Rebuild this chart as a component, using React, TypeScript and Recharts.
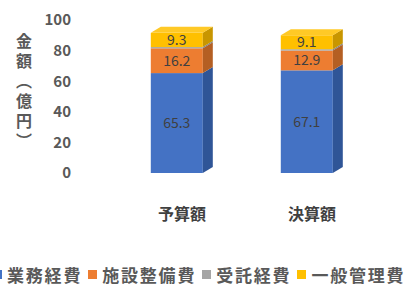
import React from 'react';
import { BarChart, Bar, XAxis, YAxis, LabelList } from 'recharts';

const categories = ['予算額', '決算額'];
const gyomu = [65.3, 67.1];
const shisetsu = [16.2, 12.9];
const jutaku = [0.8, 0.9];
const ippan = [9.3, 9.1];
const yTicks = [0, 20, 40, 60, 80, 100];

const seriesDefs = [
  { key: 'gyomu', name: '業務経費', color: '#4472C4', side: '#2F5597', label: true },
  { key: 'shisetsu', name: '施設整備費', color: '#ED7D31', side: '#B45F23', label: true },
  { key: 'jutaku', name: '受託経費', color: '#A5A5A5', side: '#7F7F7F', label: false },
  { key: 'ippan', name: '一般管理費', color: '#FFC000', side: '#C89600', label: true },
];

const data = categories.map((c, i) => ({
  name: c,
  gyomu: gyomu[i],
  shisetsu: shisetsu[i],
  jutaku: jutaku[i],
  ippan: ippan[i],
}));

const DEPTH_X = 10;
const DEPTH_Y = 6;

// front face + right side, top face only on last segment
const Box3D = (color: string, side: string, top: boolean) => (props: any) => {
  const { x, y, width, height } = props;
  if (!height || height <= 0) return null;
  const w = width - DEPTH_X;
  return (
    <g>
      <rect x={x} y={y} width={w} height={height} fill={color} />
      <path
        d={`M${x + w},${y} L${x + w + DEPTH_X},${y - DEPTH_Y} L${x + w + DEPTH_X},${y + height - DEPTH_Y} L${x + w},${y + height} Z`}
        fill={side}
      />
      {top && (
        <path
          d={`M${x},${y} L${x + DEPTH_X},${y - DEPTH_Y} L${x + w + DEPTH_X},${y - DEPTH_Y} L${x + w},${y} Z`}
          fill={color}
          opacity={0.85}
        />
      )}
    </g>
  );
};

const LegendBox = () => (
  <div
    style={{
      position: 'absolute',
      left: -7,
      top: 262,
      display: 'flex',
      alignItems: 'center',
      whiteSpace: 'nowrap',
      fontSize: 17,
      fontWeight: 'bold',
      color: '#595959',
      letterSpacing: 1.8,
    }}
  >
    {seriesDefs.map((s) => (
      <span key={s.key} style={{ display: 'inline-flex', alignItems: 'center', marginRight: 6 }}>
        <span style={{ width: 9, height: 9, background: s.color, marginRight: 5, display: 'inline-block' }} />
        {s.name}
      </span>
    ))}
  </div>
);

export default function App() {
  return (
    <div style={{ position: 'absolute', left: 0, top: 0, width: 417, height: 291, background: '#fff', overflow: 'hidden', fontFamily: '"Noto Sans CJK JP", sans-serif' }}>
      <div
        style={{
          position: 'absolute',
          left: 16,
          top: 33,
          writingMode: 'vertical-rl',
          fontSize: 16,
          fontWeight: 'bold',
          color: '#595959',
          lineHeight: 1,
          letterSpacing: 4,
        }}
      >
        金額（億円）
      </div>
      <BarChart
        width={417}
        height={291}
        data={data}
        margin={{ top: 20, right: 40, bottom: 78, left: 7 }}
        barCategoryGap="26%"
      >
        <XAxis
          dataKey="name"
          axisLine={false}
          tickLine={false}
          tickMargin={30}
          height={40}
          tick={{ fill: '#404040', fontSize: 16, fontWeight: 'bold' }}
        />
        <YAxis
          domain={[0, 100]}
          ticks={yTicks}
          width={110}
          axisLine={false}
          tickLine={false}
          tickMargin={40}
          tick={{ fill: '#595959', fontSize: 15, fontWeight: 'bold' }}
        />
        {seriesDefs.map((s, i) => (
          <Bar
            key={s.key}
            dataKey={s.key}
            name={s.name}
            stackId="a"
            fill={s.color}
            isAnimationActive={false}
            shape={Box3D(s.color, s.side, i === seriesDefs.length - 1)}
          >
            {s.label && (
              <LabelList
                dataKey={s.key}
                content={(p: any) => (
                  <text
                    x={p.x + (p.width - DEPTH_X) / 2}
                    y={p.y + p.height / 2}
                    dy={5}
                    textAnchor="middle"
                    fill="#404040"
                    fontSize={14}
                  >
                    {Number(p.value).toFixed(1)}
                  </text>
                )}
              />
            )}
          </Bar>
        ))}
      </BarChart>
      <LegendBox />
    </div>
  );
}
